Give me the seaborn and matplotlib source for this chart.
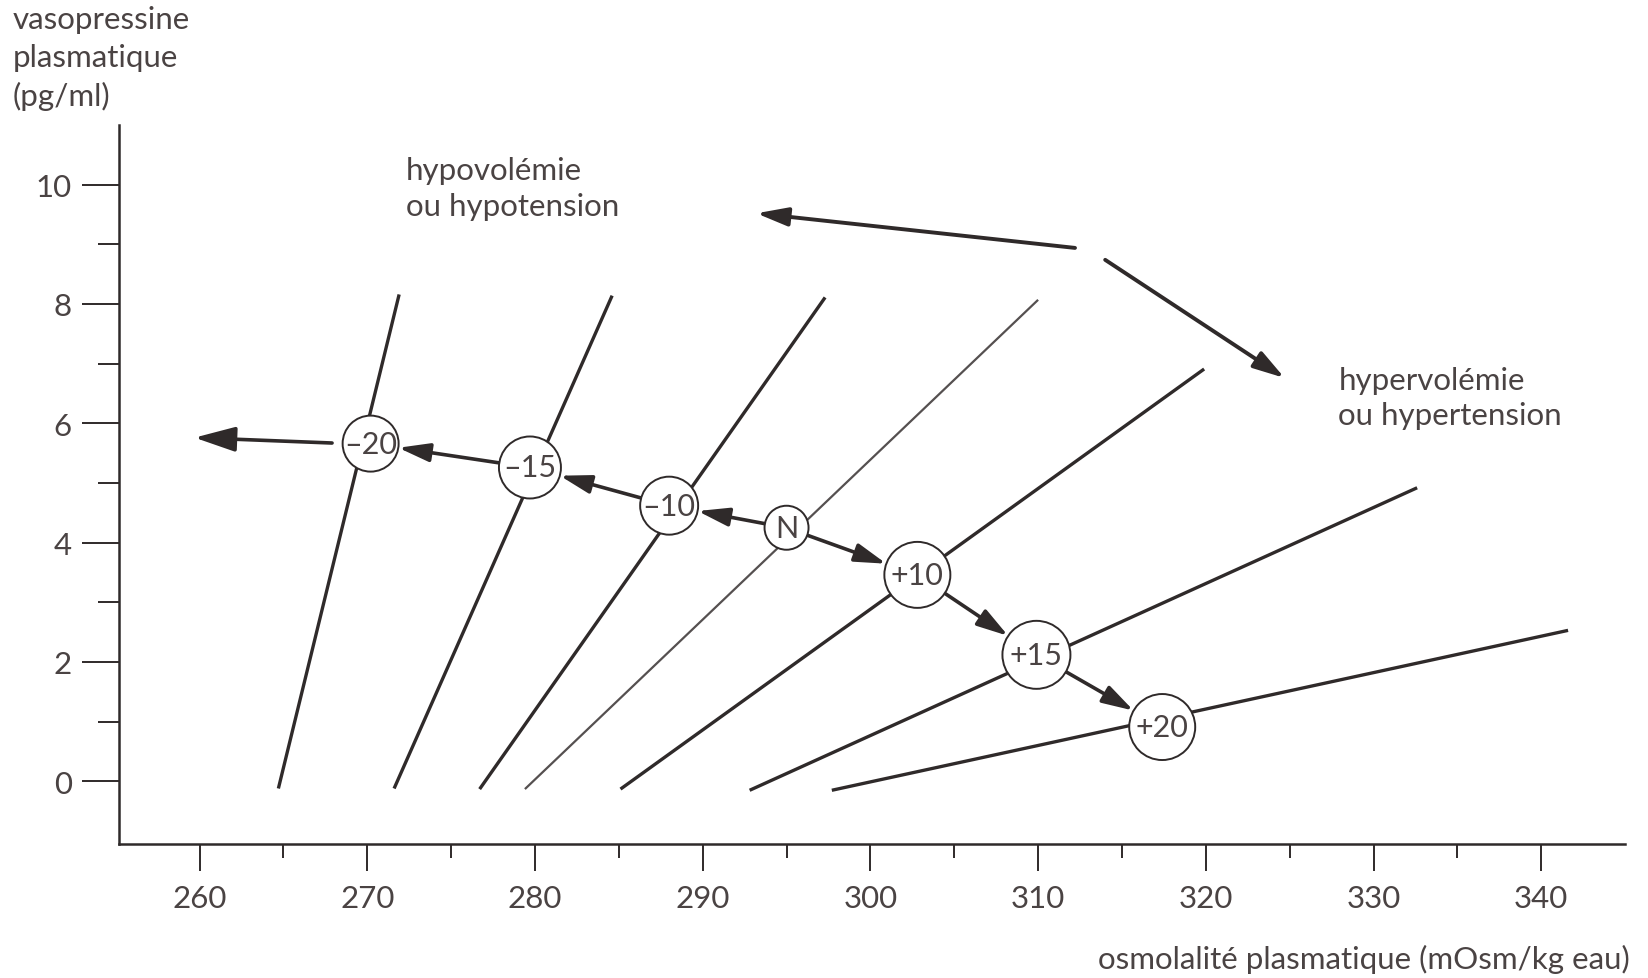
import matplotlib
matplotlib.use("Agg")
import matplotlib.pyplot as plt
import pandas as pd
import seaborn as sns

# Isopleths of the osmolality / vasopressin relation, one per volume state
line_x_start = [264.7, 271.6, 276.7, 279.4, 285.1, 292.8, 297.7]
line_y_start = [-0.12, -0.12, -0.13, -0.13, -0.13, -0.15, -0.15]
line_x_end = [271.9, 284.6, 297.3, 310.0, 319.9, 332.6, 341.6]
line_y_end = [8.16, 8.14, 8.11, 8.07, 6.91, 4.92, 2.53]

# Set points (% change of blood volume / pressure)
node_labels = ["–20", "–15", "–10", "N", "+10", "+15", "+20"]
node_x = [270.2, 279.7, 288.0, 295.0, 302.8, 309.9, 317.4]
node_y = [5.66, 5.26, 4.62, 4.25, 3.46, 2.12, 0.91]

# Shift of the set point: each arrow goes from one node to the next
chain_from = ["N", "–10", "–15", "N", "+10", "+15"]
chain_to = ["–10", "–15", "–20", "+10", "+15", "+20"]

# Open-ended arrow continuing past –20
tail_start = (267.9, 5.67)
tail_end = (259.7, 5.76)

# Direction arrows for the two annotations
hypo_arrow_start = (312.2, 8.94)
hypo_arrow_end = (293.2, 9.52)
hyper_arrow_start = (314.0, 8.74)
hyper_arrow_end = (324.7, 6.76)

x_major = list(range(260, 341, 10))
x_minor = list(range(265, 340, 10))
y_major = [0, 2, 4, 6, 8, 10]
y_minor = [1, 3, 5, 7, 9]

# --- styling -------------------------------------------------------------
sns.set_style("ticks")
plt.rcParams["font.family"] = ["Lato", "DejaVu Sans"]
INK = "#2f2a2a"
TEXT = "#4a4343"
FS = 22.5

node_radius_px = {"–20": 28, "–15": 31, "–10": 29, "N": 22,
                  "+10": 33, "+15": 34, "+20": 33}
PX2PT = 72 / 100

fig = plt.figure(figsize=(16.49, 9.79), dpi=100)
fig.patch.set_facecolor("white")
ax = fig.add_axes([0.0722, 0.1369, 0.9133, 0.7344])
ax.set_facecolor("white")

# isopleths
for i in range(len(line_x_start)):
    seg = pd.DataFrame({"osm": [line_x_start[i], line_x_end[i]],
                        "avp": [line_y_start[i], line_y_end[i]]})
    thin = (i == 3)
    sns.lineplot(data=seg, x="osm", y="avp", ax=ax,
                 color="#555050" if thin else INK,
                 linewidth=1.6 if thin else 2.4,
                 solid_capstyle="butt", zorder=2)

# set-point circles
nodes = pd.DataFrame({"osm": node_x, "avp": node_y, "label": node_labels})
sizes = {k: (2 * r * PX2PT) ** 2 for k, r in node_radius_px.items()}
sns.scatterplot(data=nodes, x="osm", y="avp", size="label", sizes=sizes,
                color="white", edgecolor=INK, linewidth=1.4,
                legend=False, ax=ax, zorder=4)
for lab, x, y in zip(node_labels, node_x, node_y):
    ax.text(x, y, lab, ha="center", va="center", fontsize=22,
            color=TEXT, zorder=5)

pos = {lab: (x, y) for lab, x, y in zip(node_labels, node_x, node_y)}
arrow_kw = dict(arrowstyle="-|>,head_length=0.95,head_width=0.28",
                mutation_scale=20, color=INK, lw=2.6,
                shrinkA=0, shrinkB=0)
for a, b in zip(chain_from, chain_to):
    ax.annotate("", xy=pos[b], xytext=pos[a], zorder=3,
                arrowprops=dict(arrow_kw,
                                shrinkA=node_radius_px[a] * PX2PT,
                                shrinkB=node_radius_px[b] * PX2PT))

ax.annotate("", xy=tail_end, xytext=tail_start, zorder=3,
            arrowprops=dict(arrow_kw,
                            arrowstyle="-|>,head_length=1.25,head_width=0.38"))
ax.annotate("", xy=hypo_arrow_end, xytext=hypo_arrow_start, zorder=3,
            arrowprops=dict(arrow_kw, lw=2.8))
ax.annotate("", xy=hyper_arrow_end, xytext=hyper_arrow_start, zorder=3,
            arrowprops=dict(arrow_kw, lw=2.8))

ax.text(272.3, 9.94, "hypovolémie\nou hypotension", ha="left", va="center",
        fontsize=FS, color=TEXT, linespacing=1.33)
ax.text(327.9, 6.43, "hypervolémie\nou hypertension", ha="left", va="center",
        fontsize=FS, color=TEXT, linespacing=1.33)

# axes
ax.set_xlim(255.2, 345.0)
ax.set_ylim(-1.05, 11.0)
ax.set_xticks(x_major)
ax.set_xticks(x_minor, minor=True)
ax.set_yticks(y_major)
ax.set_yticks(y_minor, minor=True)
ax.set_xticklabels([str(v) for v in x_major])
ax.set_yticklabels([str(v) for v in y_major])
ax.set_xlabel("")
ax.set_ylabel("")
for side in ("top", "right"):
    ax.spines[side].set_visible(False)
for side in ("left", "bottom"):
    ax.spines[side].set_color(INK)
    ax.spines[side].set_linewidth(1.8)

ax.tick_params(axis="y", which="major", length=27, width=1.4, pad=7,
               color=INK, labelcolor=TEXT, labelsize=FS)
ax.tick_params(axis="y", which="minor", length=15, width=1.4, color=INK)
ax.tick_params(axis="x", which="major", length=19.5, width=1.4, pad=9,
               color=INK, labelcolor=TEXT, labelsize=FS)
ax.tick_params(axis="x", which="minor", length=10, width=1.4, color=INK)

fig.text(13 / 1649, 1 - 6 / 979, "vasopressine\nplasmatique\n(pg/ml)",
         ha="left", va="top", fontsize=FS, color=TEXT, linespacing=1.42)
fig.text(1630 / 1649, 1 - 959 / 979, "osmolalité plasmatique (mOsm/kg eau)",
         ha="right", va="center", fontsize=FS, color=TEXT)

fig.savefig("out.png", dpi=100, facecolor="white")
